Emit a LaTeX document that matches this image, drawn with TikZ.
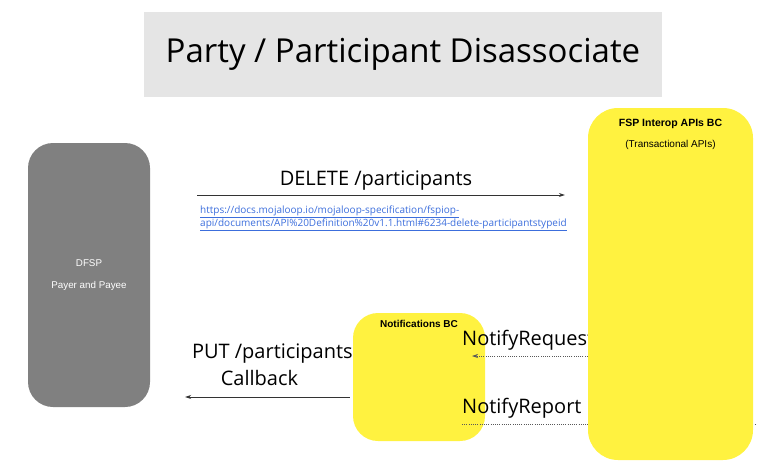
\documentclass[tikz,border=0pt]{standalone}
\usepackage{fontspec}
\setmainfont{Open Sans}
\newfontfamily\arialfont{Liberation Sans}
\usetikzlibrary{arrows.meta}
\definecolor{bcyellow}{RGB}{255,242,64}
\definecolor{linkblue}{RGB}{60,110,220}
\pgfdeclarelayer{front}
\pgfsetlayers{main,front}

\begin{document}
\begin{tikzpicture}[
  x=1pt, y=-1pt,
  titlebox/.style={
    fill=gray!20,
    minimum width=518pt,
    minimum height=85pt,
    font=\fontsize{33}{38}\selectfont
  },
  dfspbox/.style={
    fill=gray,
    rounded corners=25pt,
    minimum width=122pt,
    minimum height=264pt,
    text=white,
    align=center,
    font=\arialfont\fontsize{9.8}{22}\selectfont
  },
  bcbox/.style={fill=bcyellow, rounded corners=#1},
  bclabel/.style={
    anchor=north,
    align=center,
    font=\arialfont\fontsize{10}{21}\selectfont
  },
  msg/.style={font=\fontsize{20}{27}\selectfont, inner sep=0pt},
  link/.style={
    text=linkblue,
    align=left,
    inner sep=0pt,
    font=\fontsize{10}{13}\selectfont
  },
  flow/.style={-{Stealth[length=6pt,width=4pt]}, line width=0.7pt, black!80},
  dotflow/.style={flow, gray!70!black, dash pattern=on 1pt off 1.2pt},
  dotline/.style={line width=0.7pt, gray!70!black, dash pattern=on 1pt off 1.2pt}
]
\useasboundingbox (0,0) rectangle (757,471);

\node[titlebox] (title) at (403,54.5) {Party / Participant Disassociate};
\node[dfspbox] (dfsp) at (89,275) {DFSP\\Payer and Payee};
\node[bcbox=25pt, minimum width=132pt, minimum height=128pt,
  label={[bclabel, yshift=-3.5pt]north:\textbf{Notifications BC}}] (notif) at (419,377) {};
\begin{pgfonlayer}{front}
\node[bcbox=30pt, minimum width=165pt, minimum height=352pt,
  label={[bclabel, yshift=-7.5pt]north:{\fontsize{10.5}{21}\selectfont\textbf{FSP Interop APIs BC}\\(Transactional APIs)}}] (fsp) at (670.5,284) {};
\end{pgfonlayer}

% request to the API
\node[msg, anchor=base] (dellbl) at (376,185) {DELETE /participants};
\node[link, anchor=base west] (url) at (200,226) {\underline{https://docs.mojaloop.io/mojaloop-specification/fspiop-}\\\underline{api/documents/API\%20Definition\%20v1.1.html\#6234-delete-participantstypeid}};
\draw[flow, shorten <=47pt, shorten >=23pt] (dfsp.east |- 0,195) -- (fsp.west |- 0,195);

% callback via notifications
\node[msg, align=center, anchor=base] (putlbl) at (272.4,385) {PUT /participants\\\hspace*{-26pt}Callback};
\draw[flow, shorten <=3pt, shorten >=35pt] (notif.west |- 0,397) -- (dfsp.east |- 0,397);

\node[msg, anchor=base west] (reqlbl) at (462,345) {NotifyRequest};
\coordinate (reqend) at (472,356);
\draw[dotflow] (fsp.west |- reqend) -- (reqend);

\node[msg, anchor=base west] (replbl) at (462,413) {NotifyReport};
\coordinate (repstart) at (462,424);
\draw[dotline] (repstart) -- ([xshift=4pt]fsp.east |- repstart);
\end{tikzpicture}
\end{document}
